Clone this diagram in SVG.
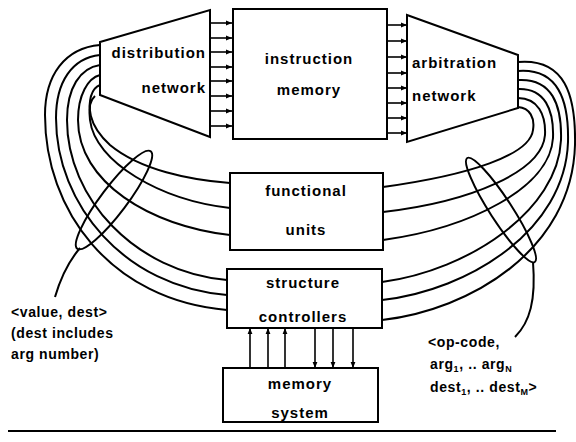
<svg xmlns="http://www.w3.org/2000/svg" width="576" height="442" viewBox="0 0 576 442">
<defs>
<marker id="ah" viewBox="0 0 10 10" refX="10" refY="5" markerWidth="6" markerHeight="6" orient="auto" markerUnits="userSpaceOnUse">
<path d="M0,1 L10,5 L0,9 Z" fill="#000"/>
</marker>
</defs>
<style>
.box{fill:#fff;stroke:#000;stroke-width:2}
.ln{fill:none;stroke:#000;stroke-width:2}
.ar{fill:none;stroke:#000;stroke-width:1.6;marker-end:url(#ah)}
.t{font-family:"Liberation Sans",Arial,sans-serif;font-weight:bold;font-size:15px;letter-spacing:1px;fill:#000}
.n{font-family:"Liberation Sans",Arial,sans-serif;font-weight:bold;font-size:14px;letter-spacing:0.6px;fill:#000}
.s{font-size:9px}
</style>
<rect width="576" height="442" fill="#fff"/>

<g id="connectors">
<!-- left bundle -->
<path class="ln" d="M100,45 C65,48 45,75 45,115 C45,210 110,300 227,310"/>
<path class="ln" d="M100,55 C72,58 56,82 56,118 C56,205 125,287 227,295"/>
<path class="ln" d="M100,65 C80,68 67,88 67,120 C67,198 135,272 227,280"/>
<path class="ln" d="M100,75 C88,78 78,95 78,120 C78,182 150,226 230,235"/>
<path class="ln" d="M100,85 C92,88 88,100 90,120 C95,162 160,200 230,208"/>
<path class="ln" d="M95,96 C86,104 88,125 110,145 C140,170 190,180 230,183"/>
<!-- right bundle -->
<path class="ln" d="M518,107 C530,108 535,118 533,130 C530,155 470,175 383,187"/>
<path class="ln" d="M518,98 C538,98 546,115 545,135 C542,172 470,202 383,212"/>
<path class="ln" d="M518,89 C545,88 554,110 553,138 C550,188 470,228 383,240"/>
<path class="ln" d="M518,80 C552,78 562,105 561,140 C558,210 470,270 382,282"/>
<path class="ln" d="M518,71 C558,68 569,100 568,142 C565,230 470,290 382,300"/>
<path class="ln" d="M518,62 C565,58 576,95 575,145 C572,250 470,310 382,320"/>
<!-- distribution -> instruction memory -->
<path class="ar" d="M210,23 H232"/>
<path class="ar" d="M210,38 H232"/>
<path class="ar" d="M210,52 H232"/>
<path class="ar" d="M210,67 H232"/>
<path class="ar" d="M210,81 H232"/>
<path class="ar" d="M210,96 H232"/>
<path class="ar" d="M210,111 H232"/>
<path class="ar" d="M210,126 H232"/>
<!-- instruction memory -> arbitration -->
<path class="ar" d="M387,25 H407"/>
<path class="ar" d="M387,41 H407"/>
<path class="ar" d="M387,57 H407"/>
<path class="ar" d="M387,73 H407"/>
<path class="ar" d="M387,88 H407"/>
<path class="ar" d="M387,103 H407"/>
<path class="ar" d="M387,118 H407"/>
<path class="ar" d="M387,133 H407"/>
<!-- memory <-> structure controllers -->
<path class="ar" d="M250,368 V328"/>
<path class="ar" d="M268,368 V328"/>
<path class="ar" d="M285,368 V328"/>
<path class="ar" d="M315,328 V368"/>
<path class="ar" d="M333,328 V368"/>
<path class="ar" d="M353,328 V368"/>
<!-- bundle loops and pointers -->
<ellipse class="ln" cx="114" cy="200" rx="61" ry="13" transform="rotate(-53 114 200)"/>
<path class="ln" d="M80,248 C68,262 60,280 55,297"/>
<ellipse class="ln" cx="501" cy="210" rx="62" ry="11" transform="rotate(57 501 210)"/>
<path class="ln" d="M533,262 C536,300 530,322 515,337"/>
</g>

<g id="distribution-network">
<path class="box" d="M100,42 L210,10 L210,137 L100,95 Z"/>
<text class="t" x="206" y="58" text-anchor="end">distribution</text>
<text class="t" x="206" y="93" text-anchor="end">network</text>
</g>

<g id="instruction-memory">
<rect class="box" x="233" y="9" width="154" height="130"/>
<text class="t" x="309" y="64" text-anchor="middle">instruction</text>
<text class="t" x="309" y="95" text-anchor="middle">memory</text>
</g>

<g id="arbitration-network">
<path class="box" d="M407,15 L518,55 L518,108 L407,142 Z"/>
<text class="t" x="412" y="68">arbitration</text>
<text class="t" x="412" y="101">network</text>
</g>

<g id="functional-units">
<rect class="box" x="230" y="173" width="153" height="77"/>
<text class="t" x="306" y="196" text-anchor="middle">functional</text>
<text class="t" x="306" y="235" text-anchor="middle">units</text>
</g>

<g id="structure-controllers">
<rect class="box" x="227" y="269" width="155" height="59"/>
<text class="t" x="303" y="288" text-anchor="middle">structure</text>
<text class="t" x="303" y="322" text-anchor="middle">controllers</text>
</g>

<g id="memory-system">
<rect class="box" x="223" y="368" width="155" height="54"/>
<text class="t" x="300" y="389" text-anchor="middle">memory</text>
<text class="t" x="300" y="418" text-anchor="middle">system</text>
</g>

<g id="labels">
<text class="n" x="11" y="317">&lt;value, dest&gt;</text>
<text class="n" x="11" y="338">(dest includes</text>
<text class="n" x="11" y="359">arg number)</text>
<text class="n" x="428" y="347">&lt;op-code,</text>
<text class="n" x="430" y="369">arg<tspan class="s" dy="3">1</tspan><tspan dy="-3">, .. arg</tspan><tspan class="s" dy="3">N</tspan></text>
<text class="n" x="430" y="392">dest<tspan class="s" dy="3">1</tspan><tspan dy="-3">, .. dest</tspan><tspan class="s" dy="3">M</tspan><tspan dy="-3">&gt;</tspan></text>
</g>

<path class="ln" d="M8,431 H556" stroke-width="2.2"/>
</svg>
